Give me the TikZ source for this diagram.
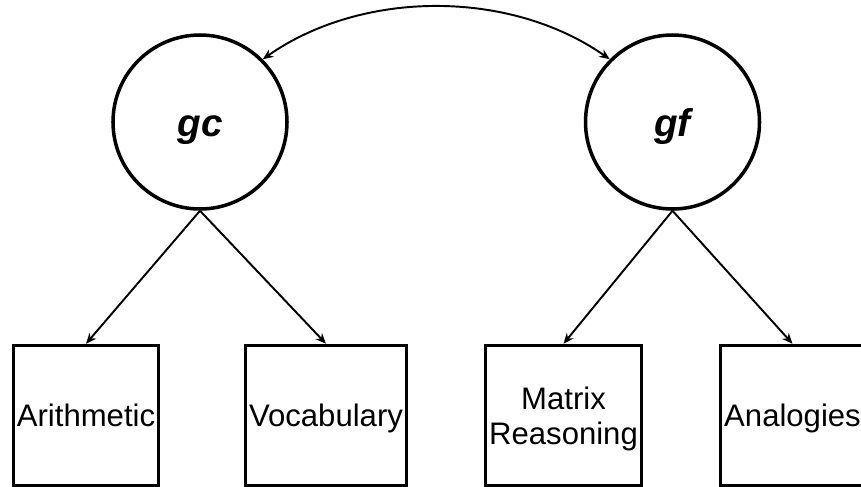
\documentclass[tikz,border=0pt]{standalone}
\usepackage{fontspec}
\setmainfont{Liberation Sans}
\usepackage{tikz}
\usetikzlibrary{arrows.meta, positioning}

\begin{document}
\begin{tikzpicture}[
    latent/.style = {circle, draw, line width=2pt, minimum size=3.48cm, inner sep=0pt, text height=17pt, text depth=0pt, font = \fontsize{22}{26}\selectfont\bfseries\itshape},
    observed/.style = {rectangle, draw, line width=2pt, align=center, minimum height=2.8cm, inner xsep=0.07cm, text depth=0pt, font = \fontsize{17.7}{20}\selectfont},
    >={Stealth[length=6pt, width=5pt]}]

\useasboundingbox (0,0) rectangle (17.22,-9.72);

\node[latent] (A) at (4.0,-2.44) {gc};
\node[latent, right=5.9cm of A] (B) {gf};
\node[observed, below=2.66cm of A, xshift=-2.28cm] (C) {Arithmetic};
\node[observed, below=2.66cm of A, xshift=2.52cm] (D) {Vocabulary};
\node[observed, below=2.66cm of B, xshift=-2.18cm] (E) {Matrix\\Reasoning};
\node[observed, below=2.66cm of B, xshift=2.40cm] (F) {Analogies};

%connectors
\draw[<->, line width=1.1pt] (A.45) to[out=35, in=145, looseness=0.9] (B.135);
\draw[->, line width=1.1pt] (A.south) -- (C.north);
\draw[->, line width=1.1pt] (A.south) -- (D.north);
\draw[->, line width=1.1pt] (B.south) -- (E.north);
\draw[->, line width=1.1pt] (B.south) -- (F.north);
\end{tikzpicture}
\end{document}
